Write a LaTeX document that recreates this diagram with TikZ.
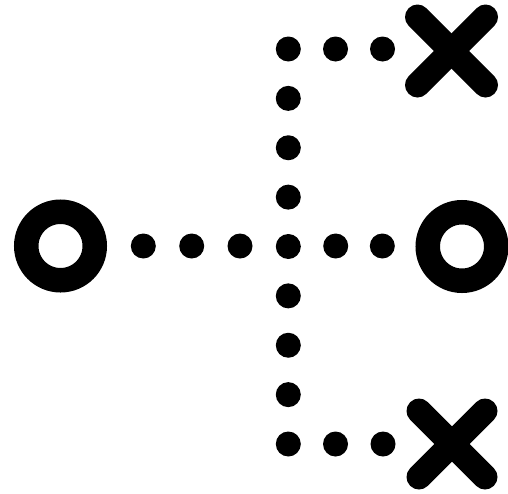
\documentclass[tikz,border=0pt]{standalone}
\begin{document}
\begin{tikzpicture}[x=1pt,y=-1pt,
  dotnode/.style={circle,fill=black,inner sep=0pt,minimum size=25pt},
  ringnode/.style={circle,draw=black,line width=24.5pt,inner sep=0pt,minimum size=68.5pt},
  crossline/.style={line width=25pt,line cap=round}]
\useasboundingbox (0,0) rectangle (508,493);
% rings
\node[ringnode] (L) at (60.5,246) {};
\node[ringnode] (R) at (462,246.5) {};
% middle row
\foreach \i/\x in {1/143.3,2/191.7,3/240,5/335.7,6/382.3}
  \node[dotnode] (h\i) at (\x,246) {};
% vertical column
\foreach \j in {0,...,8}
  \node[dotnode] (v\j) at (288.3,{49+49.375*\j}) {};
% top and bottom rows
\node[dotnode] (t1) at (335.5,49) {};
\node[dotnode] (t2) at (382.5,49) {};
\node[dotnode] (b1) at (335.5,444) {};
\node[dotnode] (b2) at (383,444) {};
% crosses
\coordinate (XT) at (451.5,51);
\coordinate (XB) at (452,444);
\draw[crossline] ([shift={(-34,-34)}]XT) -- ([shift={(34,34)}]XT);
\draw[crossline] ([shift={(-34,34)}]XT) -- ([shift={(34,-34)}]XT);
\draw[crossline] ([shift={(-33,-33)}]XB) -- ([shift={(33,33)}]XB);
\draw[crossline] ([shift={(-33,33)}]XB) -- ([shift={(33,-33)}]XB);
\end{tikzpicture}
\end{document}
